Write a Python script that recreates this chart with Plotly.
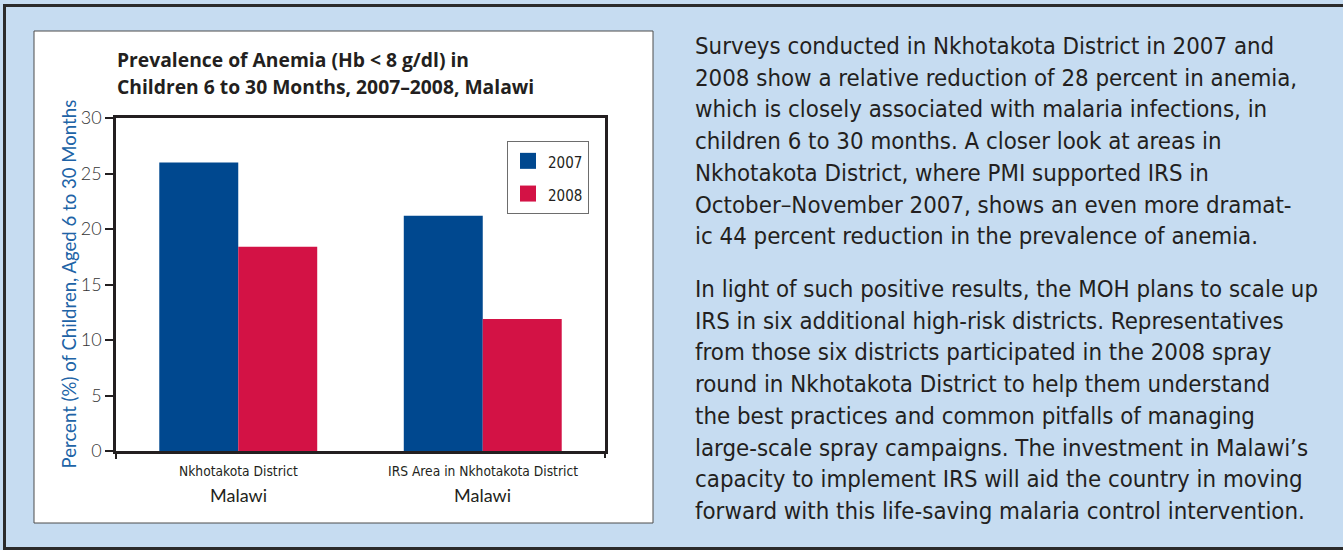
import plotly.graph_objects as go

W, H = 1343, 550

categories = ["Nkhotakota District", "IRS Area in Nkhotakota District"]
cat_sub = ["Malawi", "Malawi"]
years = ["2007", "2008"]
values_2007 = [26.0, 21.2]
values_2008 = [18.4, 11.9]
colors = {"2007": "#00488f", "2008": "#d31245"}

title_lines = ["Prevalence of Anemia (Hb < 8 g/dl) in",
               "Children 6 to 30 Months, 2007\u20132008, Malawi"]
y_title = "Percent (%) of Children, Aged 6 to 30 Months"

para1 = ["Surveys conducted in Nkhotakota District in 2007 and",
         "2008 show a relative reduction of 28 percent in anemia,",
         "which is closely associated with malaria infections, in",
         "children 6 to 30 months. A closer look at areas in",
         "Nkhotakota District, where PMI supported IRS in",
         "October\u2013November 2007, shows an even more dramat-",
         "ic 44 percent reduction in the prevalence of anemia."]
para2 = ["In light of such positive results, the MOH plans to scale up",
         "IRS in six additional high-risk districts. Representatives",
         "from those six districts participated in the 2008 spray",
         "round in Nkhotakota District to help them understand",
         "the best practices and common pitfalls of managing",
         "large-scale spray campaigns. The investment in Malawi\u2019s",
         "capacity to implement IRS will aid the country in moving",
         "forward with this life-saving malaria control intervention."]

DARK = "#231f20"
NARROW = "DejaVu Sans Condensed, Liberation Sans Narrow, sans-serif"
HUMAN = "Lato, Noto Sans, sans-serif"


def px_x(v):
    return v / W


def px_y(v):
    return 1 - v / H


fig = go.Figure()
fig.add_trace(go.Bar(x=categories, y=values_2007, name="2007",
                     marker=dict(color=colors["2007"], line=dict(width=0)),
                     showlegend=False))
fig.add_trace(go.Bar(x=categories, y=values_2008, name="2008",
                     marker=dict(color=colors["2008"], line=dict(width=0)),
                     showlegend=False))

# legend entries with bigger square swatches
for yr in years:
    fig.add_trace(go.Scatter(x=[None], y=[None], mode="markers",
                             name="<span style='font-size:15px'>" + yr + "</span>",
                             legendgroup=yr,
                             marker=dict(symbol="square", size=16, color=colors[yr],
                                         line=dict(width=0))))

fig.update_layout(
    width=W, height=H, autosize=False,
    margin=dict(l=0, r=0, t=0, b=0, pad=0, autoexpand=False),
    paper_bgcolor="#c6dcf1",
    plot_bgcolor="#dcdde0",
    barmode="group", bargap=0.354, bargroupgap=0,
    font=dict(family=HUMAN, color=DARK),
    legend=dict(x=px_x(507), y=px_y(141), xanchor="left", yanchor="top",
                bgcolor="white", bordercolor="#6d6d6d", borderwidth=1,
                font=dict(family=NARROW, size=19, color=DARK),
                tracegroupgap=5, itemclick=False),
    xaxis=dict(domain=[px_x(116), px_x(605)], showticklabels=False, ticks="",
               showline=True, linecolor=DARK, linewidth=2.5, mirror=True,
               showgrid=False, fixedrange=True),
    yaxis=dict(domain=[px_y(451), px_y(118)], range=[0, 30], dtick=5,
               ticks="outside", ticklen=8, tickwidth=2, tickcolor=DARK,
               tickfont=dict(family=HUMAN, size=18, color="#333333", weight=300),
               showline=True, linecolor=DARK, linewidth=2.5, mirror=True,
               gridcolor="white", gridwidth=1.5, zeroline=False, fixedrange=True),
)

shapes = [
    # white chart panel
    dict(type="rect", xref="paper", yref="paper", layer="below",
         x0=px_x(34), x1=px_x(653), y0=px_y(523), y1=px_y(31),
         fillcolor="white", line=dict(color="#4d4d4d", width=1)),
    # outer frame lines
    dict(type="line", xref="paper", yref="paper", x0=px_x(3), x1=1,
         y0=px_y(5.5), y1=px_y(5.5), line=dict(color="#2b2b2b", width=3)),
    dict(type="line", xref="paper", yref="paper", x0=px_x(4.5), x1=px_x(4.5),
         y0=px_y(549), y1=px_y(4), line=dict(color="#2b2b2b", width=3)),
    dict(type="line", xref="paper", yref="paper", x0=px_x(3), x1=1,
         y0=px_y(548.5), y1=px_y(548.5), line=dict(color="#2b2b2b", width=3)),
    # end ticks below the x axis
    dict(type="line", xref="paper", yref="paper", x0=px_x(116), x1=px_x(116),
         y0=px_y(451), y1=px_y(459), line=dict(color=DARK, width=2)),
    dict(type="line", xref="paper", yref="paper", x0=px_x(605), x1=px_x(605),
         y0=px_y(451), y1=px_y(458), line=dict(color=DARK, width=2)),
]
fig.update_layout(shapes=shapes)

ann = []
for i, line in enumerate(title_lines):
    ann.append(dict(text="<b>" + line + "</b>", xref="paper", yref="paper",
                    x=px_x(115), y=px_y([59.5, 86.5][i]), xanchor="left", yanchor="middle",
                    showarrow=False,
                    font=dict(family="Open Sans, Lato, sans-serif", size=19.3, color=DARK)))
ann.append(dict(text=y_title, textangle=-90, xref="paper", yref="paper",
                x=px_x(69), y=px_y(284.5), xanchor="center", yanchor="middle",
                showarrow=False, font=dict(family=HUMAN, size=18.6, color="#2063a6")))
for c, sub in zip(categories, cat_sub):
    ann.append(dict(text=c, xref="x", yref="paper", x=c, y=px_y(471),
                    xanchor="center", yanchor="middle", showarrow=False,
                    font=dict(family=NARROW, size=13.7, color=DARK)))
    ann.append(dict(text=sub, xref="x", yref="paper", x=c, y=px_y(495),
                    xanchor="center", yanchor="middle", showarrow=False,
                    font=dict(family=HUMAN, size=18, color=DARK)))

# body text, one annotation per line so the leading matches
LEAD = 31.7
for start, para in [(46, para1), (289, para2)]:
    for i, line in enumerate(para):
        ann.append(dict(text=line, xref="paper", yref="paper",
                        x=px_x(693), y=px_y(start + i * LEAD),
                        xanchor="left", yanchor="middle", align="left",
                        showarrow=False,
                        font=dict(family=NARROW, size=23.8, color=DARK)))
fig.update_layout(annotations=ann)

fig.write_html("out.html", config={"displayModeBar": False},
               post_script="document.body.style.margin='0';"
                           "document.body.style.overflow='hidden';")
